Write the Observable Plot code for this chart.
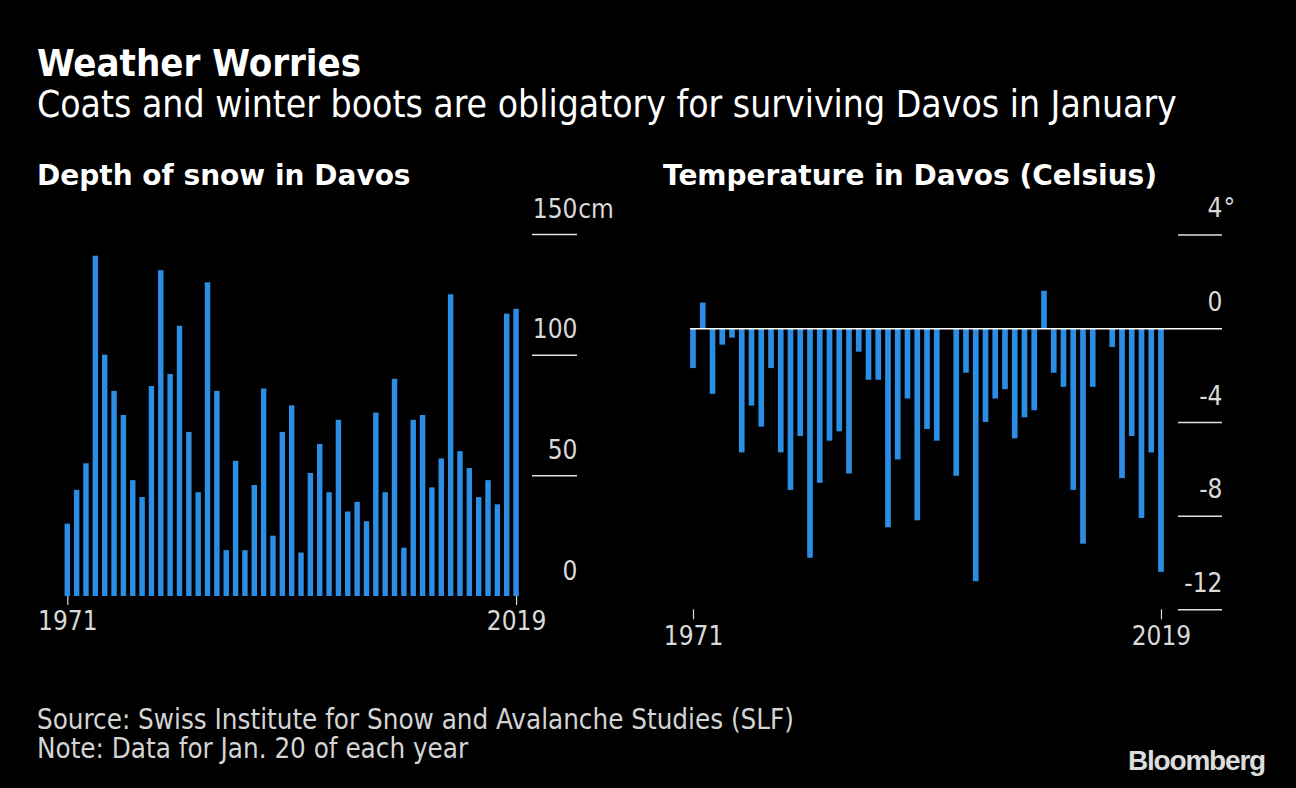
<!DOCTYPE html>
<html>
<head>
<meta charset="utf-8">
<script src="https://cdn.jsdelivr.net/npm/d3@7"></script>
<script src="https://cdn.jsdelivr.net/npm/@observablehq/plot@0.6"></script>
<style>
  html, body { margin: 0; padding: 0; background: #000; }
  body { width: 1296px; height: 788px; position: relative; overflow: hidden;
         font-family: "DejaVu Sans Condensed", "DejaVu Sans", sans-serif; font-stretch: condensed; color: #fff; }
  .t { position: absolute; white-space: nowrap; line-height: 1; }
  #title { left: 37px; top: 44px; font-size: 38px; font-weight: bold; }
  #subtitle { left: 37px; top: 86px; font-size: 37px; }
  .sec { font-family: "DejaVu Sans", sans-serif; font-stretch: normal; font-weight: bold; font-size: 28px; top: 162px; }
  #sec1 { left: 37px; }
  #sec2 { left: 663px; }
  .foot { left: 37px; font-size: 27.5px; color: #d4d4d4; }
  #src { top: 706px; }
  #note { top: 735px; }
  #logo { left: 1128px; top: 747px; font-family: "Liberation Sans", Arial, sans-serif; font-stretch: normal;
          font-weight: bold; font-size: 28px; letter-spacing: -1.2px; color: #dcdcdc; }
  #snow { position: absolute; left: 0; top: 190px; }
  #temp { position: absolute; left: 640px; top: 190px; }
</style>
</head>
<body>
<div class="t" id="title">Weather Worries</div>
<div class="t" id="subtitle">Coats and winter boots are obligatory for surviving Davos in January</div>
<div class="t sec" id="sec1">Depth of snow in Davos</div>
<div class="t sec" id="sec2">Temperature in Davos (Celsius)</div>
<div id="snow"></div>
<div id="temp"></div>
<div class="t foot" id="src">Source: Swiss Institute for Snow and Avalanche Studies (SLF)</div>
<div class="t foot" id="note">Note: Data for Jan. 20 of each year</div>
<div class="t" id="logo">Bloomberg</div>
<script>
const years = [1971,1972,1973,1974,1975,1976,1977,1978,1979,1980,
  1981,1982,1983,1984,1985,1986,1987,1988,1989,1990,
  1991,1992,1993,1994,1995,1996,1997,1998,1999,2000,
  2001,2002,2003,2004,2005,2006,2007,2008,2009,2010,
  2011,2012,2013,2014,2015,2016,2017,2018,2019];

// Snow depth (cm) on Jan. 20
const snowDepth = [30,44,55,141,100,85,75,48,41,87,
  135,92,112,68,43,130,85,19,56,19,
  46,86,25,68,79,18,51,63,43,73,
  35,39,31,76,43,90,20,73,75,45,
  57,125,60,53,41,48,38,117,119];

// Temperature (Celsius) on Jan. 20
const temperature = [-1.7,1.1,-2.8,-0.7,-0.4,-5.3,-3.3,-4.2,-1.7,-5.3,
  -6.9,-4.6,-9.8,-6.6,-4.8,-4.4,-6.2,-1.0,-2.2,-2.2,
  -8.5,-5.6,-3.0,-8.2,-4.3,-4.8,0,-6.3,-1.9,-10.8,
  -4.0,-3.0,-2.6,-4.7,-3.8,-3.5,1.6,-1.9,-2.5,-6.9,
  -9.2,-2.5,0,-0.8,-6.4,-4.6,-8.1,-5.3,-10.4];

const snowTicks = [0, 50, 100, 150];
const tempTicks = [4, 0, -4, -8, -12];
const yearTicks = [1971, 2019];

const snowRows = years.map((year, i) => ({year, value: snowDepth[i]}));
const tempRows = years.map((year, i) => ({year, value: temperature[i]}));

const BAR = "#2b8ee4";
const LABEL = "#dadada";
const LINE = "#e0e0e0";
const FONT = "DejaVu Sans Condensed, DejaVu Sans, sans-serif";

const snowPlot = Plot.plot({
  width: 640, height: 480,
  marginTop: 44, marginBottom: 74, marginLeft: 60.66, marginRight: 117.3,
  style: {background: "transparent", color: LABEL, fontFamily: FONT, fontSize: "26px", fontStretch: "condensed"},
  x: {type: "band", domain: years, padding: 0.42, align: 0.5, round: false, axis: null},
  y: {domain: [0, 150], axis: null},
  marks: [
    Plot.barY(snowRows, {x: "year", y: "value", fill: BAR}),
    Plot.ruleY(snowTicks.filter(d => d > 0), {stroke: LINE, strokeWidth: 1.5, insetLeft: 471.3, insetRight: -54.3}),
    Plot.text(snowTicks, {y: d => d, text: d => String(d), frameAnchor: "right", textAnchor: "end", dx: 54.3, dy: -25, fill: LABEL, fontSize: 26}),
    Plot.text([150], {y: d => d, text: () => "cm", frameAnchor: "right", textAnchor: "start", dx: 55, dy: -25, fill: LABEL, fontSize: 26}),
    Plot.axisX(yearTicks, {tickSize: 9, tickPadding: 6, fontSize: 26, label: null, tickFormat: d => String(d), stroke: LABEL, fill: LABEL, strokeWidth: 1.2})
  ]
});
document.getElementById("snow").appendChild(snowPlot);

const tempPlot = Plot.plot({
  width: 656, height: 480,
  marginTop: 44.6, marginBottom: 60.7, marginLeft: 46.08, marginRight: 128.1,
  style: {background: "transparent", color: LABEL, fontFamily: FONT, fontSize: "26px", fontStretch: "condensed"},
  x: {type: "band", domain: years, padding: 0.42, align: 0.5, round: false, axis: null},
  y: {domain: [-12, 4], axis: null},
  marks: [
    Plot.barY(tempRows, {x: "year", y: "value", fill: BAR}),
    Plot.ruleY(tempTicks.filter(d => d !== 0), {stroke: LINE, strokeWidth: 1.5, insetLeft: 491.9, insetRight: -54.1}),
    Plot.ruleY([0], {stroke: "#ffffff", strokeWidth: 1.5, insetLeft: 4, insetRight: -54.1}),
    Plot.text(tempTicks, {y: d => d, text: d => String(d), frameAnchor: "right", textAnchor: "end", dx: 54.1, dy: -26, fill: LABEL, fontSize: 26}),
    Plot.text([4], {y: d => d, text: () => "°", frameAnchor: "right", textAnchor: "start", dx: 55, dy: -26, fill: LABEL, fontSize: 26}),
    Plot.axisX(yearTicks, {tickSize: 10, tickPadding: 7, fontSize: 26, label: null, tickFormat: d => String(d), stroke: LABEL, fill: LABEL, strokeWidth: 1.2})
  ]
});
document.getElementById("temp").appendChild(tempPlot);
</script>
</body>
</html>
